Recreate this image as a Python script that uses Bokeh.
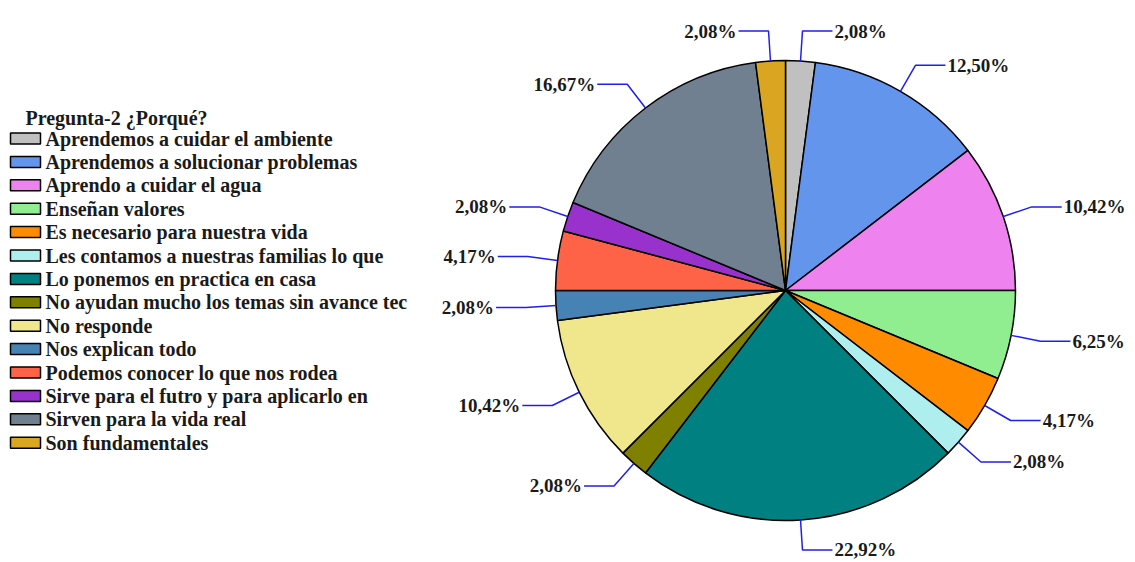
import math
from bokeh.plotting import figure
from bokeh.models import Range1d, ColumnDataSource
from bokeh.core.properties import value
from bokeh.embed import file_html
from bokeh.resources import INLINE

# ---------------- data ----------------
categories = [
    "Aprendemos a cuidar el ambiente",
    "Aprendemos a solucionar problemas",
    "Aprendo a cuidar el agua",
    "Enseñan valores",
    "Es necesario para nuestra vida",
    "Les contamos a nuestras familias lo que",
    "Lo ponemos en practica en casa",
    "No ayudan mucho los temas sin avance tec",
    "No responde",
    "Nos explican todo",
    "Podemos conocer lo que nos rodea",
    "Sirve para el futro y para aplicarlo en",
    "Sirven para  la vida real",
    "Son fundamentales",
]
percentages = [2.08, 12.50, 10.42, 6.25, 4.17, 2.08, 22.92, 2.08, 10.42, 2.08, 4.17, 2.08, 16.67, 2.08]
colors = ["#C0C0C0", "#6495ED", "#EE82EE", "#90EE90", "#FF8C00", "#AFEEEE", "#008080",
          "#808000", "#F0E68C", "#4682B4", "#FF6347", "#9932CC", "#708090", "#DAA520"]
legend_title = "Pregunta-2 ¿Porqué?"

# ---------------- layout ----------------
W, H = 1135, 562
def Y(ys):
    return H - ys

CX, CY = 785, Y(290)
R = 230
ELBOW = 30
LEG = 30
FONT = "Liberation Serif"

p = figure(width=W, height=H, output_backend="svg", toolbar_location=None,
           x_range=Range1d(0, W), y_range=Range1d(0, H),
           min_border=0, outline_line_color=None)
p.axis.visible = False
p.grid.visible = False
p.background_fill_color = "white"

total = sum(percentages)
starts, ends, mids = [], [], []
cum = 0.0
for v in percentages:
    s = math.pi / 2 - 2 * math.pi * cum / total
    e = s - 2 * math.pi * v / total
    starts.append(s)
    ends.append(e)
    mids.append((s + e) / 2)
    cum += v

src = ColumnDataSource(dict(start=starts, end=ends, color=colors,
                            x=[CX] * len(percentages), y=[CY] * len(percentages)))
p.wedge(x="x", y="y", radius=R, radius_units="screen", start_angle="start", end_angle="end",
        direction="clock", fill_color="color", line_color="black", line_width=1.5, source=src)

# leader lines + labels
lx, ly, tx, ty, tt, ta = [], [], [], [], [], []
for v, m in zip(percentages, mids):
    c, s = math.cos(m), math.sin(m)
    ex, ey = CX + R * c, CY + R * s
    bx, by = CX + (R + ELBOW) * c, CY + (R + ELBOW) * s
    side = 1 if c >= 0 else -1
    fx = bx + side * LEG
    lx.append([ex, bx, fx])
    ly.append([ey, by, by])
    tx.append(fx + side * 2)
    ty.append(by)
    tt.append(("%.2f" % v).replace(".", ",") + "%")
    ta.append("left" if side > 0 else "right")

p.multi_line(xs=lx, ys=ly, line_color="#1f1ff0", line_width=1.5)
lsrc = ColumnDataSource(dict(x=tx, y=ty, t=tt, a=ta))
p.text(x="x", y="y", text="t", text_align="a", text_baseline="middle", source=lsrc,
       text_font=value(FONT), text_font_style="bold", text_font_size="19px", text_color="#1a1a1a")

# legend (manual)
row0, step = 138, 23.4
leg_y = [Y(row0 + i * step) for i in range(len(categories))]
legsrc = ColumnDataSource(dict(y=leg_y, c=colors, t=categories,
                               sx=[25] * len(categories), tx=[45] * len(categories)))
p.rect(x="sx", y="y", width=30, height=11, width_units="screen", height_units="screen",
       fill_color="c", line_color="black", line_width=1.5, source=legsrc)
p.text(x="tx", y="y", text="t", text_baseline="middle", source=legsrc,
       text_font=value(FONT), text_font_style="bold", text_font_size="20px", text_color="#1a1a1a")
p.text(x=[25], y=[Y(117)], text=[legend_title], text_baseline="middle",
       text_font=value(FONT), text_font_style="bold", text_font_size="20px", text_color="#1a1a1a")

open("out.html", "w").write(file_html(p, INLINE))
